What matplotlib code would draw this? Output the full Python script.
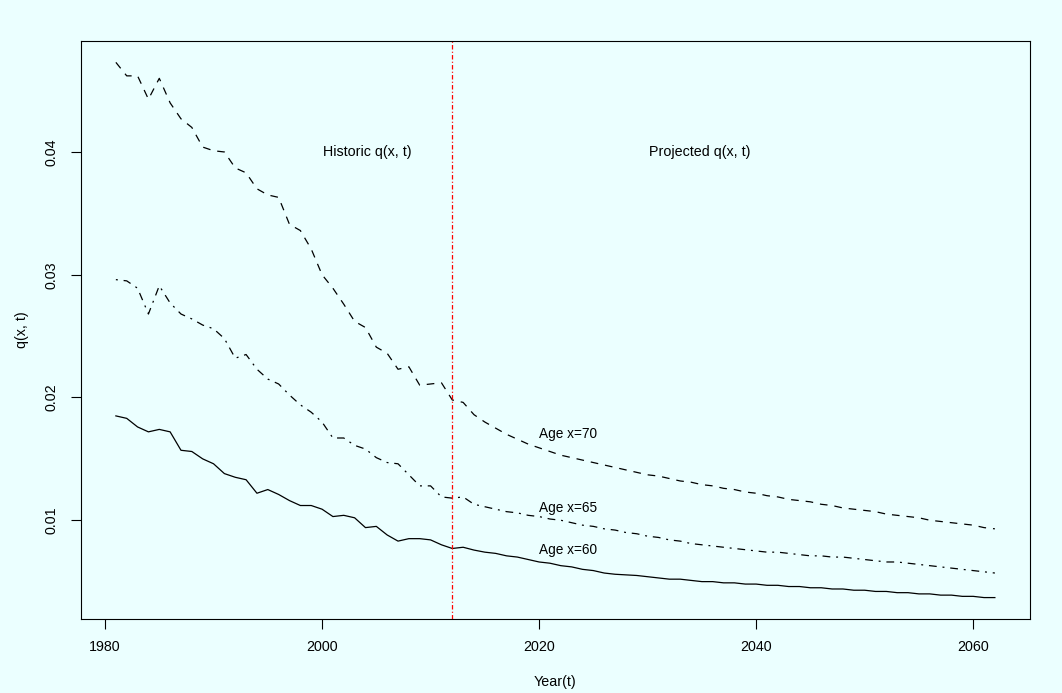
import numpy as np
import matplotlib
matplotlib.use('Agg')
import matplotlib.pyplot as plt

plt.rcParams['font.family'] = ['Liberation Sans', 'DejaVu Sans']
plt.rcParams['lines.scale_dashes'] = False

bg = '#EBFFFF'

years = np.arange(1981, 2063)
last_obs = 2012

# one-year death probabilities, 1981-2012 observed, 2013-2062 projected
q70 = [0.0473, 0.0462, 0.0462, 0.0443, 0.0460, 0.0440, 0.0427, 0.0420, 0.0404, 0.0401,
       0.0400, 0.0387, 0.0383, 0.0370, 0.0365, 0.0363, 0.0341, 0.0336, 0.0321, 0.0300,
       0.0289, 0.0276, 0.0262, 0.0257, 0.0241, 0.0236, 0.0223, 0.0225, 0.0210, 0.0211,
       0.0212, 0.0198,
       0.0196, 0.0186, 0.0180, 0.0175, 0.0170, 0.0166, 0.0162, 0.0159, 0.0156, 0.0153,
       0.0151, 0.0149, 0.0147, 0.0145, 0.0143, 0.0141, 0.0139, 0.0137, 0.0136, 0.0134,
       0.0132, 0.0131, 0.0129, 0.0128, 0.0126, 0.0125, 0.0123, 0.0122, 0.0120, 0.0119,
       0.0117, 0.0116, 0.0115, 0.0113, 0.0112, 0.0110, 0.0109, 0.0108, 0.0107, 0.0105,
       0.0104, 0.0103, 0.0102, 0.0100, 0.0099, 0.0098, 0.0097, 0.0096, 0.0094, 0.0093]

q65 = [0.0296, 0.0295, 0.0289, 0.0268, 0.0291, 0.0277, 0.0268, 0.0264, 0.0259, 0.0256,
       0.0248, 0.0232, 0.0235, 0.0223, 0.0215, 0.0211, 0.0202, 0.0194, 0.0188, 0.0180,
       0.0167, 0.0167, 0.0161, 0.0158, 0.0151, 0.0147, 0.0146, 0.0137, 0.0128, 0.0128,
       0.0119, 0.0118,
       0.0119, 0.0113, 0.0111, 0.0109, 0.0107, 0.0106, 0.0104, 0.0103, 0.0101, 0.0100,
       0.0098, 0.0096, 0.0095, 0.0093, 0.0092, 0.0090, 0.0089, 0.0087, 0.0086, 0.0084,
       0.0083, 0.0081, 0.0080, 0.0079, 0.0078, 0.0077, 0.0076, 0.0075, 0.0074, 0.0074,
       0.0073, 0.0072, 0.0071, 0.0071, 0.0070, 0.0070, 0.0069, 0.0068, 0.0067, 0.0066,
       0.0066, 0.0065, 0.0064, 0.0063, 0.0062, 0.0061, 0.0060, 0.0059, 0.0058, 0.0057]

q60 = [0.0185, 0.0183, 0.0176, 0.0172, 0.0174, 0.0172, 0.0157, 0.0156, 0.0150, 0.0146,
       0.0138, 0.0135, 0.0133, 0.0122, 0.0125, 0.0121, 0.0116, 0.0112, 0.0112, 0.0109,
       0.0103, 0.0104, 0.0102, 0.0094, 0.0095, 0.0088, 0.0083, 0.0085, 0.0085, 0.0084,
       0.0080, 0.0077,
       0.0078, 0.00757, 0.0074, 0.0073, 0.0071, 0.0070, 0.0068, 0.0066, 0.0065, 0.0063,
       0.0062, 0.0060, 0.0059, 0.0057, 0.0056, 0.00555, 0.0055, 0.0054, 0.0053, 0.0052,
       0.0052, 0.0051, 0.0050, 0.0050, 0.0049, 0.0049, 0.0048, 0.0048, 0.0047, 0.0047,
       0.0046, 0.0046, 0.0045, 0.0045, 0.0044, 0.0044, 0.0043, 0.0043, 0.0042, 0.0042,
       0.0041, 0.0041, 0.0040, 0.0040, 0.0039, 0.0039, 0.0038, 0.0038, 0.0037, 0.0037]

xticks = [1980, 2000, 2020, 2040, 2060]
yticks = [0.01, 0.02, 0.03, 0.04]
age_labels = ['Age x=70', 'Age x=65', 'Age x=60']
age_label_y = [0.01706, 0.0110, 0.0076]
age_label_x = 2020

fig = plt.figure(figsize=(10.62, 6.93), dpi=100, facecolor=bg)
ax = fig.add_axes([0.0760, 0.1068, 0.8939, 0.8341], facecolor=bg)

lw = 0.9
ax.plot(years, q70, color='black', lw=lw, linestyle=(0, (5.5, 5.0)))
ax.plot(years, q65, color='black', lw=lw, linestyle=(0, (1.4, 4.2, 5.6, 4.2)))
ax.plot(years, q60, color='black', lw=lw, linestyle='-')
ax.axvline(last_obs, color='red', lw=0.9, linestyle=(0, (3.2, 1.6, 0.8, 1.6)))

# 4% padding around the data range, like base R graphics
allq = np.concatenate([q70, q65, q60])
xr = years[-1] - years[0]
yr = allq.max() - allq.min()
ax.set_xlim(years[0] - 0.04 * xr, years[-1] + 0.04 * xr)
ax.set_ylim(allq.min() - 0.04 * yr, allq.max() + 0.04 * yr)

ax.set_xticks(xticks)
ax.set_xticklabels([str(t) for t in xticks])
ax.set_yticks(yticks)
ax.set_yticklabels([f'{t:.2f}' for t in yticks], rotation=90, va='center')
ax.tick_params(axis='both', direction='out', length=7, width=0.8, labelsize=10.3, colors='black')
ax.tick_params(axis='x', pad=8)
ax.tick_params(axis='y', pad=9)
for s in ax.spines.values():
    s.set_linewidth(0.8)
    s.set_color('black')

ax.set_xlabel('Year(t)', fontsize=10.3, labelpad=15)
ax.set_ylabel('q(x, t)', fontsize=10.3, labelpad=11)

ax.text(2004.2, 0.04, 'Historic q(x, t)', fontsize=10.3, ha='center', va='center')
ax.text(2034.8, 0.04, 'Projected q(x, t)', fontsize=10.3, ha='center', va='center')
for lab, yv in zip(age_labels, age_label_y):
    ax.text(age_label_x, yv, lab, fontsize=9.8, ha='left', va='center')

fig.savefig('out.png', dpi=100, facecolor=bg)
